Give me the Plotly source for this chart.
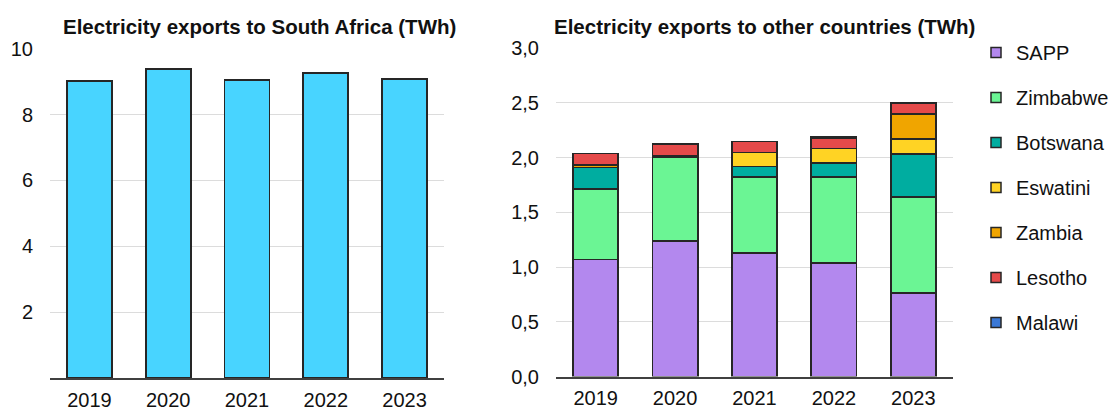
import plotly.graph_objects as go

years = ["2019", "2020", "2021", "2022", "2023"]

# Exports to South Africa (TWh)
south_africa = [9.03, 9.38, 9.04, 9.27, 9.08]

# Exports to other countries (TWh), stacked bottom to top
sapp = [1.07, 1.24, 1.13, 1.04, 0.765]
zimbabwe = [0.64, 0.767, 0.692, 0.786, 0.875]
botswana = [0.20, 0.012, 0.097, 0.128, 0.396]
eswatini = [0.0, 0.0, 0.128, 0.13, 0.134]
zambia = [0.025, 0.0, 0.0, 0.0, 0.231]
lesotho = [0.103, 0.107, 0.101, 0.095, 0.101]
malawi = [0.0, 0.0, 0.0, 0.012, 0.0]

series = [
    ("SAPP", sapp, "#B388EE"),
    ("Zimbabwe", zimbabwe, "#6BF594"),
    ("Botswana", botswana, "#00ADA0"),
    ("Eswatini", eswatini, "#FFD324"),
    ("Zambia", zambia, "#F0A500"),
    ("Lesotho", lesotho, "#E54A4A"),
    ("Malawi", malawi, "#3A78D6"),
]

W, H = 1110, 410
FONT = "Liberation Sans, Arial, sans-serif"
outline = dict(color="#262626", width=1.75)

fig = go.Figure()

fig.add_trace(go.Bar(
    x=years, y=south_africa, xaxis="x", yaxis="y",
    marker=dict(color="#48D4FF", line=outline),
    showlegend=False,
))

for name, vals, col in series:
    fig.add_trace(go.Bar(
        x=years, y=vals, name=name, xaxis="x2", yaxis="y2",
        legendgroup=name, showlegend=False,
        marker=dict(color=col, line=outline),
    ))
    # small square legend key for the series
    fig.add_trace(go.Scatter(
        x=[None], y=[None], name=name, xaxis="x2", yaxis="y2",
        legendgroup=name, mode="markers",
        marker=dict(symbol="square", size=10, color=col,
                    line=dict(color="#262626", width=1.5)),
    ))

def px_x(p):
    return p / W

def px_y(p):
    return (H - p) / H

grid = "#dcdcdc"
axis_line = "#404040"
tick_font = dict(family=FONT, size=20, color="#111111")

fig.update_layout(
    width=W, height=H,
    margin=dict(l=0, r=0, t=0, b=0, autoexpand=False),
    paper_bgcolor="white", plot_bgcolor="white",
    barmode="stack", bargap=0.43,
    separators=", ",
    font=dict(family=FONT, size=20, color="#111111"),
    showlegend=True,
    legend=dict(
        x=px_x(976), y=px_y(33), xanchor="left", yanchor="top",
        traceorder="grouped", tracegroupgap=16, itemsizing="trace",
        font=dict(family=FONT, size=20, color="#111111"),
        bgcolor="rgba(0,0,0,0)",
    ),
    xaxis=dict(
        domain=[px_x(50), px_x(444)], anchor="y", automargin=False,
        showline=True, linecolor=axis_line, linewidth=1.5,
        showgrid=False, ticks="", tickfont=tick_font,
        ticklabelstandoff=3,
    ),
    yaxis=dict(
        domain=[px_y(378), px_y(48.7)], anchor="x", automargin=False,
        range=[0, 10], tickvals=[2, 4, 6, 8, 10],
        showgrid=True, gridcolor=grid, gridwidth=1,
        zeroline=False, showline=False, ticks="",
        tickfont=tick_font, ticklabelstandoff=16,
    ),
    xaxis2=dict(
        domain=[px_x(556), px_x(953)], anchor="y2", automargin=False,
        showline=True, linecolor=axis_line, linewidth=1.5,
        showgrid=False, ticks="", tickfont=tick_font,
        ticklabelstandoff=3,
    ),
    yaxis2=dict(
        domain=[px_y(376.5), px_y(48.2)], anchor="x2", automargin=False,
        range=[0, 3], tickvals=[0, 0.5, 1, 1.5, 2, 2.5, 3],
        tickformat=".1f",
        showgrid=True, gridcolor=grid, gridwidth=1,
        zeroline=False, showline=False, ticks="",
        tickfont=tick_font, ticklabelstandoff=16,
    ),
    annotations=[
        dict(text="<b>Electricity exports to South Africa (TWh)</b>",
             x=px_x(61), y=px_y(27), xref="paper", yref="paper",
             xanchor="left", yanchor="middle", showarrow=False,
             font=dict(family=FONT, size=20.5, color="#111111")),
        dict(text="<b>Electricity exports to other countries (TWh)</b>",
             x=px_x(552), y=px_y(27), xref="paper", yref="paper",
             xanchor="left", yanchor="middle", showarrow=False,
             font=dict(family=FONT, size=20.5, color="#111111")),
    ],
)

fig.write_html("out.html")
